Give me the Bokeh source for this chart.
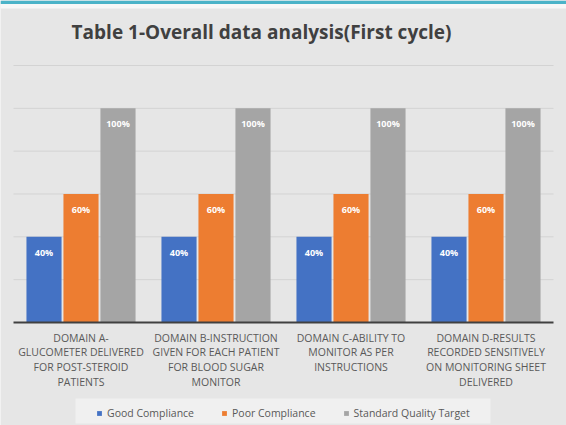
from bokeh.plotting import figure
from bokeh.models import (ColumnDataSource, FactorRange, Legend, LegendItem, Label,
                          BoxAnnotation)
from bokeh.transform import dodge
from bokeh.core.properties import value
from bokeh.embed import file_html
from bokeh.resources import INLINE

categories = [
    "DOMAIN A-\nGLUCOMETER DELIVERED\nFOR POST-STEROID\nPATIENTS",
    "DOMAIN B-INSTRUCTION\nGIVEN FOR EACH PATIENT\nFOR BLOOD SUGAR\nMONITOR",
    "DOMAIN C-ABILITY TO\nMONITOR AS PER\nINSTRUCTIONS",
    "DOMAIN D-RESULTS\nRECORDED SENSITIVELY\nON MONITORING SHEET\nDELIVERED",
]
good = [40, 40, 40, 40]
poor = [60, 60, 60, 60]
target = [100, 100, 100, 100]
series_names = ["Good Compliance", "Poor Compliance", "Standard Quality Target"]
colors = ["#4472C4", "#ED7D31", "#A5A5A5"]
grid_ticks = [20, 40, 60, 80, 100, 120]
title_text = "Table 1-Overall data analysis(First cycle)"

# layout (pixels)
W, H = 566, 425
base_px, top_px = 322, 65          # y pixel of 0 % and of 120 %
s = (base_px - top_px) / 120.0     # px per percent
y_end = 120 + top_px / s
y_start = -(H - base_px) / s
def py(px):                        # pixel row -> y value
    return (base_px - px) / s

src = ColumnDataSource(dict(
    cat=categories, good=good, poor=poor, target=target,
    good_lbl=[f"{v}%" for v in good],
    poor_lbl=[f"{v}%" for v in poor],
    target_lbl=[f"{v}%" for v in target],
    base=[0] * len(categories),
))

bg = "#e6e6e6"
p = figure(width=W, height=H,
           x_range=FactorRange(factors=categories, range_padding=13 / 135, range_padding_units="absolute"),
           y_range=(y_start, y_end), output_backend="svg", toolbar_location=None,
           min_border=0, background_fill_color=bg, border_fill_color=bg, outline_line_color=None)
p.xaxis.visible = False
p.yaxis.visible = False
p.grid.visible = False

# top teal stripe and white band
p.add_layout(BoxAnnotation(top=y_end, bottom=py(3.5), fill_color="#4BB3C8", fill_alpha=1, line_color=None, level="underlay"))
p.add_layout(BoxAnnotation(top=py(3.5), bottom=py(8), fill_color="#f7f7f7", fill_alpha=1, line_color=None, level="underlay"))

# horizontal gridlines across the category area
n = len(categories)
p.segment(x0=[0] * len(grid_ticks), x1=[n] * len(grid_ticks), y0=grid_ticks, y1=grid_ticks,
          line_color="#d3d3d3", line_width=1)

offsets = [-0.274, 0.0, 0.274]
fields = ["good", "poor", "target"]
renderers = []
for f, off, c in zip(fields, offsets, colors):
    r = p.vbar(x=dodge("cat", off, range=p.x_range), top=f, bottom=0, width=0.26, source=src,
               fill_color=c, line_color=None)
    renderers.append(r)
    p.text(x=dodge("cat", off, range=p.x_range), y=f, text=f + "_lbl", source=src,
           text_align="center", text_baseline="top", y_offset=9,
           text_color="white", text_font=value("Open Sans"), text_font_size="9px",
           text_font_style="bold")

# baseline (category axis line)
p.segment(x0=[0], x1=[n], y0=[0], y1=[0], line_color="#404040", line_width=2)

# category labels below the baseline
p.text(x="cat", y="base", text="cat", source=src, text_align="center", text_baseline="top",
       y_offset=8, text_color="#595959", text_font=value("Open Sans"), text_font_size="10.5px",
       text_line_height=1.05)

# title
p.add_layout(Label(x=261, x_units="screen", y=py(31), text=title_text, text_align="center",
                   text_baseline="middle", text_font="Open Sans", text_font_size="19px",
                   text_font_style="bold", text_color="#404040"))

# legend background + legend
p.add_layout(BoxAnnotation(left=75, right=490, left_units="screen", right_units="screen",
                           top=py(398), bottom=py(423), fill_color="#f0f0f0", fill_alpha=1,
                           line_color=None))
legend = Legend(items=[LegendItem(label=nm, renderers=[r]) for nm, r in zip(series_names, renderers)],
                orientation="horizontal", location=(96, 5),
                label_text_font="Open Sans", label_text_font_size="10.5px", label_text_color="#595959",
                glyph_width=6, glyph_height=6, spacing=27, padding=6, margin=0,
                background_fill_alpha=0, border_line_color=None, label_standoff=5)
p.add_layout(legend, "center")

open("out.html", "w").write(file_html(p, INLINE))
